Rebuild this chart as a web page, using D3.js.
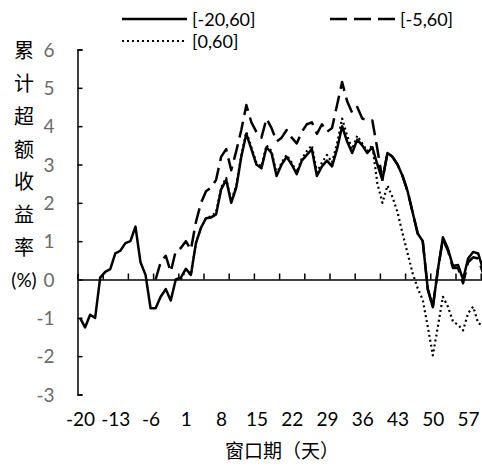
<!DOCTYPE html>
<html><head><meta charset="utf-8">
<script src="https://cdn.jsdelivr.net/npm/d3@7"></script>
<style>
html,body{margin:0;padding:0;background:#fff;}
svg{display:block;}
</style></head>
<body>
<script>
const days = d3.range(-20, 61);
const seriesNames = ["[-20,60]", "[-5,60]", "[0,60]"];
const solidValues = [-1.0,-1.25,-0.92,-1.0,0.05,0.2,0.27,0.68,0.75,0.95,1.0,1.38,0.45,0.12,-0.75,-0.75,-0.45,-0.25,-0.55,0.0,
  0.05,0.28,0.12,0.95,1.35,1.6,1.62,1.7,2.35,2.6,2.0,2.4,3.2,3.8,3.4,3.0,2.9,3.45,3.3,2.7,3.0,3.2,3.0,2.75,3.1,3.25,3.4,2.7,2.95,3.1,
  2.95,3.4,4.0,3.6,3.3,3.65,3.5,3.3,3.45,3.0,2.6,3.3,3.2,3.0,2.7,2.3,1.75,1.2,1.0,-0.25,-0.72,0.25,1.1,0.8,0.35,0.38,0.0,0.55,0.72,0.68,0.25];
const dashedStart = -5;
const dashedValues = [0.0,0.45,0.62,0.2,0.75,0.82,1.0,0.78,1.5,2.0,2.3,2.4,2.6,3.2,3.4,2.85,3.35,3.9,4.55,4.1,3.85,3.7,4.2,3.95,3.6,3.7,3.9,3.7,3.55,3.85,4.05,4.1,3.8,4.05,3.85,
  3.95,4.55,5.15,4.65,4.35,4.5,4.2,4.15,4.15,3.4,2.6,3.3,3.2,3.0,2.7,2.3,1.75,1.2,1.0,-0.25,-0.72,0.25,1.05,0.75,0.3,0.3,-0.1,0.45,0.58,0.55,0.15];
const dottedStart = 0;
const dottedValues = [0.0,0.25,0.12,0.95,1.35,1.6,1.65,1.75,2.4,2.65,2.05,2.45,3.25,3.85,3.45,3.05,2.95,3.5,3.35,2.75,3.05,3.25,3.05,2.8,3.15,3.35,3.5,2.8,3.05,3.25,
  3.05,3.55,4.2,3.75,3.4,3.75,3.55,3.35,3.5,2.5,2.0,2.45,2.15,1.75,1.2,0.68,0.16,-0.23,-0.53,-1.23,-1.98,-1.23,-0.45,-0.71,-1.1,-1.18,-1.33,-0.88,-0.71,-1.14,-1.2];
const xTickLabels = [-20,-13,-6,1,8,15,22,29,36,43,50,57];
const yTicks = [-3,-2,-1,0,1,2,3,4,5,6];
const yTitleChars = ["累","计","超","额","收","益","率","(%)"];
const xTitle = "窗口期（天）";

const W = 482, H = 468;
const svg = d3.select("body").append("svg").attr("width", W).attr("height", H);
const step = 5.04;
const x = d3.scaleLinear().domain([-20.5, 60.5]).range([77.5, 77.5 + 81 * step]);
const y = d3.scaleLinear().domain([-3, 6]).range([394.5, 49.5]);
const numFont = "Lato, 'Liberation Sans', sans-serif";
const cjkFont = "'Noto Sans CJK SC', sans-serif";
const fmt = d => String(d);

// y axis
const yAxis = d3.axisLeft(y).tickValues(yTicks).tickSizeInner(-5).tickSizeOuter(-5).tickPadding(23).tickFormat(fmt);
const gy = svg.append("g").attr("transform", "translate(77.5,0)").call(yAxis);
gy.select(".domain").attr("stroke", "#000").attr("stroke-width", 1.5);
gy.selectAll(".tick line").attr("stroke", "#000").attr("stroke-width", 1.5);
gy.selectAll(".tick text").attr("fill", "#6b6b6b").style("font-family", numFont).style("font-size", "19px").attr("dy", "0.35em");

// x axis at zero with ticks every 5 categories
const boundaryTicks = d3.range(-20.5, 61, 5);
const xAxis = d3.axisBottom(x).tickValues(boundaryTicks).tickSizeInner(-6).tickSizeOuter(0).tickFormat("");
const gx = svg.append("g").attr("transform", `translate(0,${y(0)})`).call(xAxis);
gx.select(".domain").attr("stroke", "#000").attr("stroke-width", 1.5);
gx.selectAll(".tick line").attr("stroke", "#000").attr("stroke-width", 1.5);

// x labels
const xLab = d3.axisBottom(x).tickValues(xTickLabels).tickSize(0).tickPadding(0).tickFormat(fmt);
const gl = svg.append("g").attr("transform", "translate(0,412)").call(xLab);
gl.select(".domain").remove();
gl.selectAll(".tick text").attr("fill", "#000").style("font-family", numFont).style("font-size", "19px").attr("dy", "0.71em");

// titles
svg.append("text").attr("x", 282).attr("y", 449).attr("text-anchor", "middle").attr("dominant-baseline", "central")
  .style("font-family", cjkFont).style("font-size", "19px").attr("fill", "#000").text(xTitle);
svg.selectAll(".ytitle").data(yTitleChars).enter().append("text")
  .attr("x", 24).attr("y", (d, i) => 49.5 + i * (230 / 7)).attr("text-anchor", "middle").attr("dominant-baseline", "central")
  .style("font-family", (d) => d === "(%)" ? numFont : cjkFont).style("font-size", (d) => d === "(%)" ? "19px" : "20px")
  .attr("fill", "#000").text(d => d);

// lines
const line = d3.line().x(d => x(d[0])).y(d => y(d[1]));
const solidData = solidValues.map((v, i) => [days[i], v]);
const dashedData = dashedValues.map((v, i) => [dashedStart + i, v]);
const dottedData = dottedValues.map((v, i) => [dottedStart + i, v]);
const styles = [
  {data: solidData, dash: null, w: 2.5},
  {data: dashedData, dash: "16,7", w: 2.5},
  {data: dottedData, dash: "2,3", w: 2.2}
];
styles.slice().reverse().forEach(s => {
  svg.append("path").datum(s.data).attr("d", line).attr("fill", "none").attr("stroke", "#000")
    .attr("stroke-width", s.w).attr("stroke-linejoin", "round").attr("stroke-dasharray", s.dash);
});

// legend
const legendItems = [
  {name: seriesNames[0], dash: null, w: 2.5, x: 122, y: 19},
  {name: seriesNames[1], dash: "17,7", w: 2.5, x: 330, y: 19},
  {name: seriesNames[2], dash: "2,3", w: 2.2, x: 122, y: 41}
];
legendItems.forEach(it => {
  svg.append("line").attr("x1", it.x).attr("x2", it.x + 65).attr("y1", it.y).attr("y2", it.y)
    .attr("stroke", "#000").attr("stroke-width", it.w).attr("stroke-dasharray", it.dash);
  svg.append("text").attr("x", it.x + 70).attr("y", it.y).attr("dominant-baseline", "central")
    .style("font-family", numFont).style("font-size", "18px").attr("fill", "#000").text(it.name);
});
</script>
</body></html>
